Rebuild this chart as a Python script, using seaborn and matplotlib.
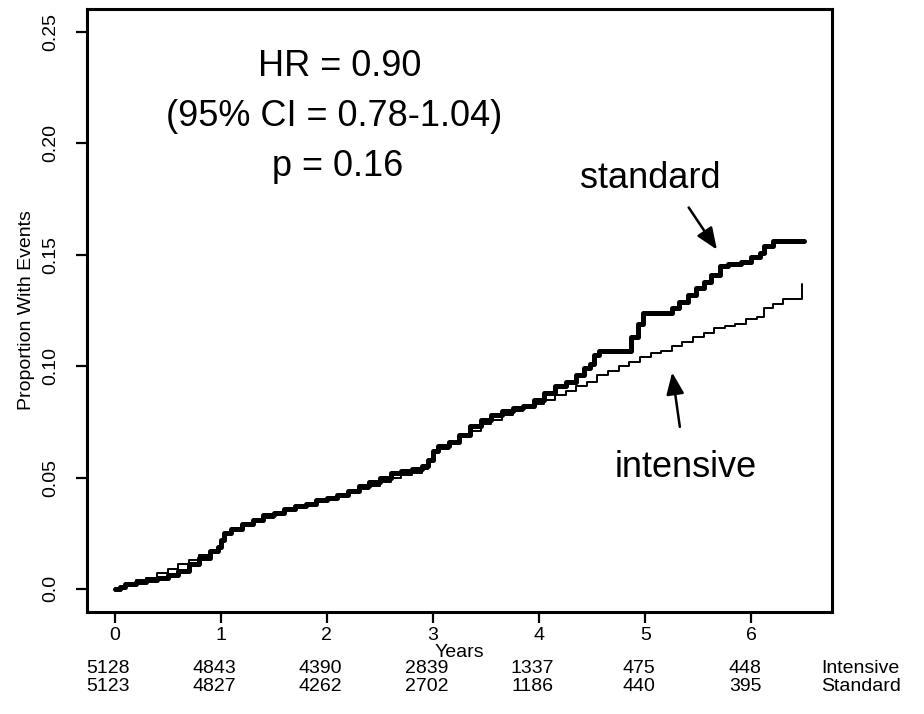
import matplotlib
matplotlib.use("Agg")
import matplotlib.pyplot as plt
import seaborn as sns
import pandas as pd

# ---- data ----
std_t = [0.00, 0.05, 0.10, 0.20, 0.30, 0.40, 0.50, 0.60, 0.70, 0.80, 0.90, 0.97,
         1.00, 1.03, 1.10, 1.20, 1.30, 1.40, 1.50, 1.60, 1.70, 1.80, 1.90, 2.00,
         2.10, 2.20, 2.30, 2.40, 2.50, 2.60, 2.70, 2.80, 2.90, 2.95, 3.00, 3.05,
         3.15, 3.25, 3.35, 3.45, 3.55, 3.65, 3.75, 3.85, 3.95, 4.05, 4.15, 4.25,
         4.35, 4.42, 4.48, 4.52, 4.56, 4.87, 4.93, 4.98, 5.25, 5.32, 5.40, 5.48,
         5.55, 5.62, 5.70, 5.78, 5.90, 6.00, 6.08, 6.12, 6.20, 6.50]
std_p = [0.000, 0.001, 0.002, 0.003, 0.004, 0.005, 0.006, 0.008, 0.011, 0.014, 0.017, 0.019,
         0.022, 0.025, 0.027, 0.029, 0.031, 0.033, 0.034, 0.036, 0.037, 0.038, 0.040, 0.041,
         0.042, 0.044, 0.046, 0.048, 0.050, 0.052, 0.053, 0.054, 0.055, 0.058, 0.062, 0.064,
         0.066, 0.069, 0.073, 0.076, 0.078, 0.080, 0.081, 0.082, 0.085, 0.088, 0.091, 0.093,
         0.096, 0.099, 0.101, 0.105, 0.107, 0.113, 0.119, 0.124, 0.126, 0.129, 0.132, 0.135,
         0.138, 0.141, 0.145, 0.146, 0.147, 0.149, 0.151, 0.154, 0.156, 0.156]

int_t = [0.00, 0.10, 0.20, 0.30, 0.40, 0.50, 0.60, 0.70, 0.80, 0.90, 0.97, 1.00,
         1.03, 1.10, 1.20, 1.30, 1.40, 1.50, 1.60, 1.70, 1.80, 1.90, 2.00, 2.10,
         2.20, 2.30, 2.40, 2.50, 2.60, 2.70, 2.80, 2.90, 2.95, 3.00, 3.05, 3.15,
         3.25, 3.35, 3.45, 3.55, 3.65, 3.75, 3.85, 3.95, 4.05, 4.15, 4.25, 4.35,
         4.45, 4.55, 4.65, 4.75, 4.85, 4.95, 5.05, 5.15, 5.25, 5.35, 5.45, 5.55,
         5.65, 5.75, 5.85, 5.95, 6.05, 6.12, 6.20, 6.30, 6.48]
int_p = [0.000, 0.002, 0.004, 0.005, 0.007, 0.009, 0.011, 0.013, 0.015, 0.017, 0.019, 0.022,
         0.025, 0.027, 0.029, 0.031, 0.032, 0.034, 0.035, 0.037, 0.038, 0.039, 0.040, 0.042,
         0.043, 0.045, 0.046, 0.048, 0.050, 0.051, 0.052, 0.054, 0.057, 0.061, 0.063, 0.065,
         0.068, 0.071, 0.074, 0.076, 0.078, 0.080, 0.081, 0.083, 0.085, 0.087, 0.089, 0.091,
         0.093, 0.096, 0.098, 0.100, 0.102, 0.104, 0.106, 0.107, 0.109, 0.111, 0.113, 0.115,
         0.117, 0.118, 0.119, 0.121, 0.122, 0.126, 0.128, 0.130, 0.137]

risk_years = [0, 1, 2, 3, 4, 5, 6]
risk_intensive = [5128, 4843, 4390, 2839, 1337, 475, 448]
risk_standard = [5123, 4827, 4262, 2702, 1186, 440, 395]
y_ticks = [0.0, 0.05, 0.10, 0.15, 0.20, 0.25]
y_tick_labels = ["0.0", "0.05", "0.10", "0.15", "0.20", "0.25"]
x_ticks = [0, 1, 2, 3, 4, 5, 6]

sns.set_theme(style="white")
plt.rcParams["font.family"] = ["Liberation Sans", "DejaVu Sans"]
for k in ["text.color", "axes.labelcolor", "xtick.color", "ytick.color"]:
    plt.rcParams[k] = "black"

fig = plt.figure(figsize=(9.24, 7.14), dpi=100)
ax = fig.add_axes([87 / 924, 1 - 612 / 714, (832 - 87) / 924, (612 - 9) / 714])

df_s = pd.DataFrame({"t": std_t, "p": std_p})
df_i = pd.DataFrame({"t": int_t, "p": int_p})
sns.lineplot(data=df_s, x="t", y="p", ax=ax, color="black", linewidth=3.6,
             drawstyle="steps-post", estimator=None, sort=False)
sns.lineplot(data=df_i, x="t", y="p", ax=ax, color="black", linewidth=1.4,
             drawstyle="steps-post", estimator=None, sort=False)

ax.set_xlim(-0.26, 6.76)
ax.set_ylim(-0.0104, 0.2604)
ax.set_xticks(x_ticks)
ax.set_xticklabels([str(v) for v in x_ticks], fontsize=14)
ax.set_yticks(y_ticks)
ax.set_yticklabels(y_tick_labels, fontsize=14, rotation=90, va="center")
ax.tick_params(axis="both", direction="out", length=8, width=1.6, color="black",
               bottom=True, left=True)
ax.tick_params(axis="x", pad=3)
ax.tick_params(axis="y", pad=12)
for s in ax.spines.values():
    s.set_visible(True)
    s.set_color("black")
    s.set_linewidth(2.2)

ax.set_xlabel("Years", fontsize=14, labelpad=0)
ax.set_ylabel("Proportion With Events", fontsize=14, labelpad=5)

# annotation text
ax.text(2.12, 0.2345, "HR = 0.90", ha="center", va="center", fontsize=26)
ax.text(2.07, 0.212, "(95% CI = 0.78-1.04)", ha="center", va="center", fontsize=26)
ax.text(2.1, 0.1895, "p = 0.16", ha="center", va="center", fontsize=26)

ax.text(5.05, 0.1844, "standard", ha="center", va="center", fontsize=26)
ax.text(5.38, 0.0545, "intensive", ha="center", va="center", fontsize=26)

ax.annotate("", xy=(5.69, 0.1513), xytext=(5.395, 0.1723),
            arrowprops=dict(arrowstyle="-|>,head_length=1.1,head_width=0.45",
                            color="black", lw=1.8))
ax.annotate("", xy=(5.25, 0.0984), xytext=(5.33, 0.0715),
            arrowprops=dict(arrowstyle="-|>,head_length=1.1,head_width=0.45",
                            color="black", lw=1.8))

# numbers at risk
for xv, ni, ns in zip(risk_years, risk_intensive, risk_standard):
    ax.text(xv - 0.06, -0.0358, str(ni), ha="center", va="center", fontsize=14,
            clip_on=False)
    ax.text(xv - 0.06, -0.0438, str(ns), ha="center", va="center", fontsize=14,
            clip_on=False)
ax.text(6.66, -0.0358, "Intensive", ha="left", va="center", fontsize=14,
        clip_on=False)
ax.text(6.66, -0.0438, "Standard", ha="left", va="center", fontsize=14,
        clip_on=False)

fig.savefig("out.png", dpi=100)
